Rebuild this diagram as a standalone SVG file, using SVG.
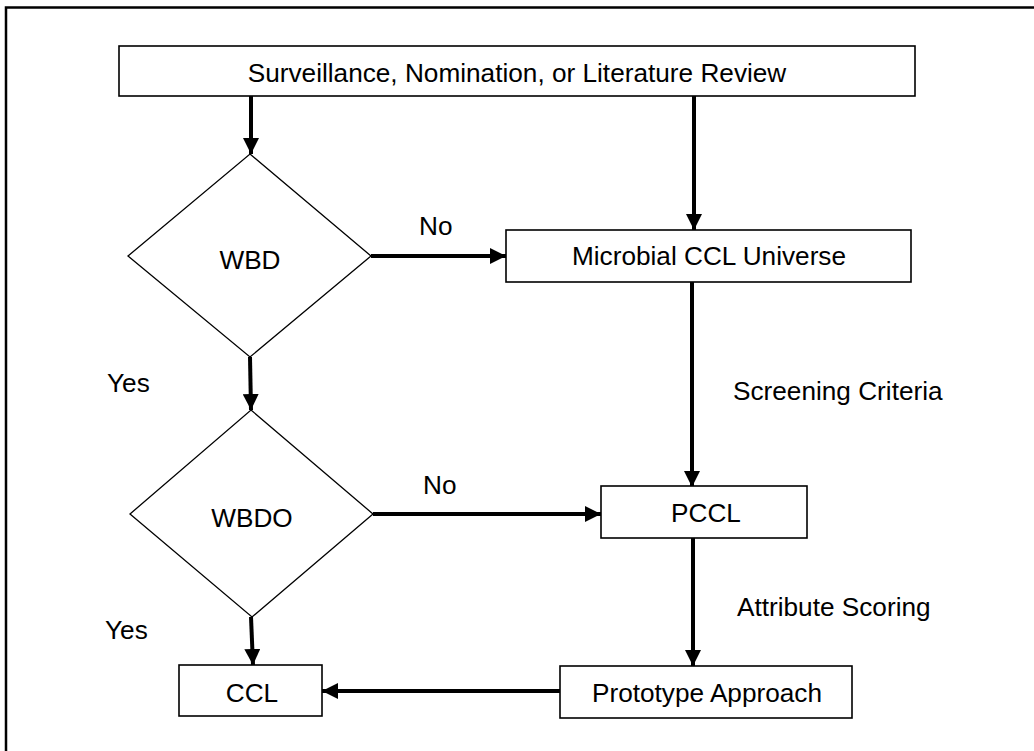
<svg xmlns="http://www.w3.org/2000/svg" width="1034" height="751" viewBox="0 0 1034 751">
<defs>
<style>
.box{fill:#fff;stroke:#000;stroke-width:1.6}
.dia{fill:#fff;stroke:#000;stroke-width:1.3}
.t{font-family:"Liberation Sans",Arial,sans-serif;font-size:26.2px;fill:#000}
.c{text-anchor:middle}
.con{stroke:#000;stroke-width:4;fill:none}
.frame{stroke:#000;stroke-width:2.5;fill:none}
</style>
<marker id="ah" markerUnits="userSpaceOnUse" markerWidth="16" markerHeight="16" viewBox="0 0 16 16" refX="16" refY="8" orient="auto">
<path d="M0,0 L16,8 L0,16 Z" fill="#000"/>
</marker>
</defs>
<rect width="1034" height="751" fill="#fff"/>
<path class="frame" d="M6,751 V7.5 H1034"/>
<g id="connectors">
<line class="con" x1="251" y1="96" x2="251" y2="154" marker-end="url(#ah)"/>
<line class="con" x1="694" y1="96" x2="694" y2="230" marker-end="url(#ah)"/>
<line class="con" x1="371" y1="256" x2="506" y2="256" marker-end="url(#ah)"/>
<line class="con" x1="692" y1="280" x2="692" y2="487" marker-end="url(#ah)"/>
<line class="con" x1="250" y1="357" x2="251" y2="410" marker-end="url(#ah)"/>
<line class="con" x1="373" y1="514" x2="601" y2="514" marker-end="url(#ah)"/>
<line class="con" x1="693" y1="537" x2="693" y2="666" marker-end="url(#ah)"/>
<line class="con" x1="251" y1="617" x2="253" y2="665" marker-end="url(#ah)"/>
<line class="con" x1="563" y1="691" x2="322" y2="691" marker-end="url(#ah)"/>
</g>
<g id="labels">
<text class="t" x="419" y="235">No</text>
<text class="t" x="423" y="494">No</text>
<text class="t" x="107" y="392">Yes</text>
<text class="t" x="105" y="639">Yes</text>
<text class="t" x="733" y="400">Screening Criteria</text>
<text class="t" x="737" y="616">Attribute Scoring</text>
</g>
<g id="source">
<rect class="box" x="119" y="46" width="796" height="50"/>
<text class="t c" x="517" y="82">Surveillance, Nomination, or Literature Review</text>
</g>
<g id="wbd">
<polygon class="dia" points="250,154 371,256 250,357 128,256"/>
<text class="t c" x="250" y="269">WBD</text>
</g>
<g id="microbial">
<rect class="box" x="506" y="230" width="405" height="52"/>
<text class="t c" x="709" y="265">Microbial CCL Universe</text>
</g>
<g id="wbdo">
<polygon class="dia" points="251,410 373,514 252,617 130,514"/>
<text class="t c" x="252" y="527">WBDO</text>
</g>
<g id="pccl">
<rect class="box" x="601" y="486" width="206" height="52"/>
<text class="t c" x="706" y="522">PCCL</text>
</g>
<g id="ccl">
<rect class="box" x="179" y="665" width="143" height="51"/>
<text class="t c" x="252" y="702">CCL</text>
</g>
<g id="prototype">
<rect class="box" x="560" y="666" width="292" height="52"/>
<text class="t c" x="707" y="702">Prototype Approach</text>
</g>
</svg>
